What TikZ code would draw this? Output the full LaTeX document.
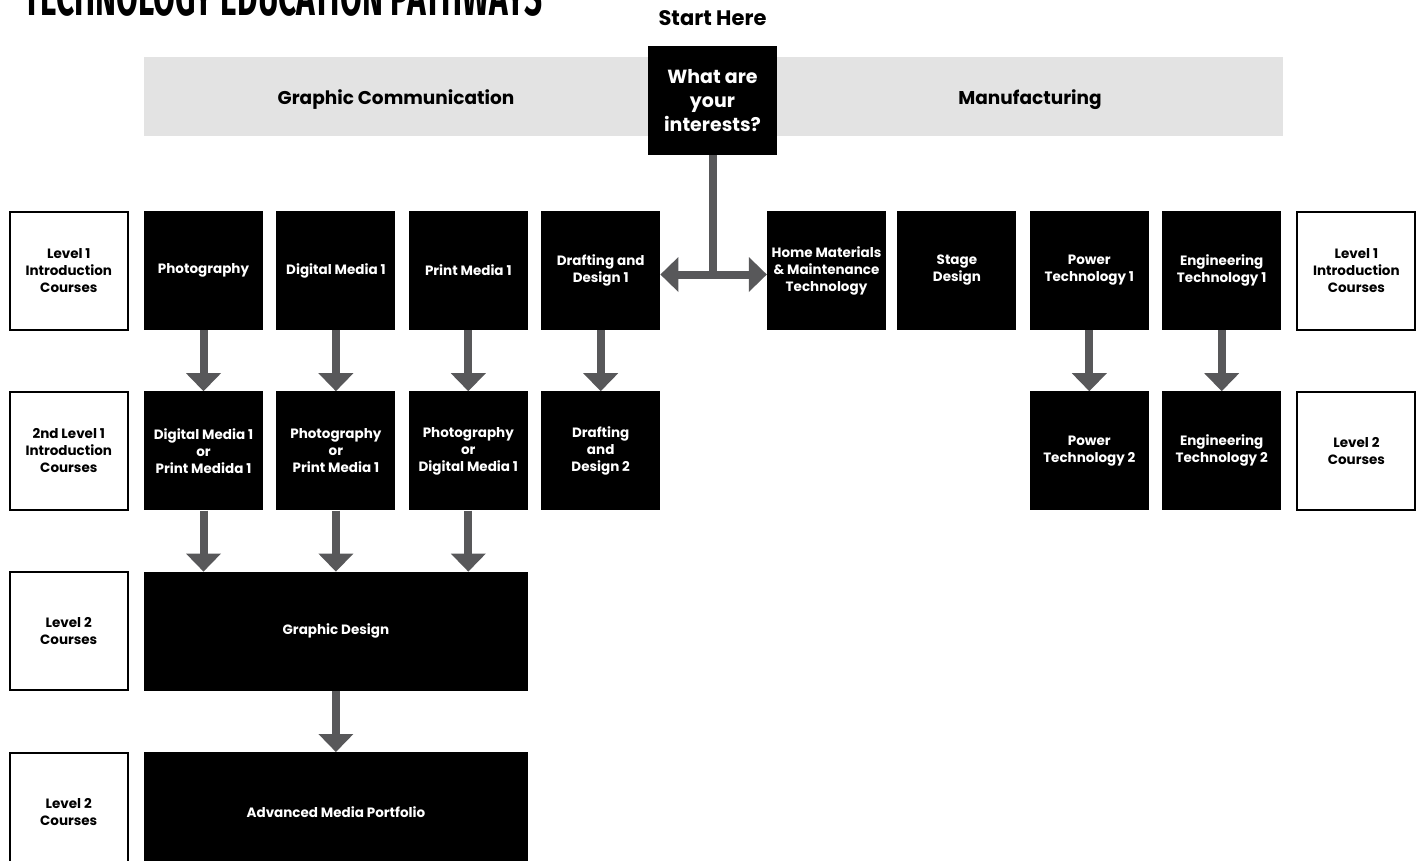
\documentclass[tikz,border=0pt]{standalone}
\usepackage{fontspec}
\usepackage{graphicx}
\setmainfont{Poppins}
\newfontfamily\headfont{Fira Sans}
\usetikzlibrary{arrows.meta,positioning}

\definecolor{bandgrey}{HTML}{E3E3E3}
\definecolor{arrowgrey}{HTML}{58585A}

\tikzset{
	course/.style={fill=black, text=white, minimum width=119pt, minimum height=119pt,
		inner sep=1pt, align=center, font=\bfseries\fontsize{13.5pt}{17pt}\selectfont},
	level/.style={draw=black, line width=2pt, fill=white, minimum width=118pt, minimum height=118pt,
		inner sep=1pt, align=center, font=\bfseries\fontsize{13.5pt}{17pt}\selectfont},
	band/.style={fill=bandgrey, minimum height=79pt, inner sep=0pt, font=\bfseries\fontsize{18.5pt}{22pt}\selectfont},
	flow/.style={color=arrowgrey, line width=8pt,
		>={Triangle[width=35pt,length=18pt,line width=0pt]}}
}

\begin{document}
\begin{tikzpicture}
	\path[use as bounding box] (0pt,0pt) rectangle (1420pt,-861pt);

	\node[anchor=base west, inner sep=0pt] (title) at (23pt,-16pt)
		{\headfont\bfseries\fontsize{54pt}{54pt}\selectfont\scalebox{0.585}[1]{TECHNOLOGY EDUCATION PATHWAYS}};

	\node[band, minimum width=504pt] (gc) at (396pt,-96.5pt) {\raisebox{-3pt}[\height][\depth]{Graphic Communication}};
	\node[band, minimum width=506pt] (mf) at (1030pt,-96.5pt) {\raisebox{-3pt}[\height][\depth]{Manufacturing}};
	\node[course, minimum width=129pt, minimum height=109pt,
		font=\bfseries\fontsize{19pt}{24pt}\selectfont] (interests) at (712.5pt,-100.5pt) {What are\\your\\interests?};
	\node[inner sep=0pt, font=\bfseries\fontsize{21pt}{24pt}\selectfont] (start)[above=20pt of interests] {Start Here};

	% graphic communication
	\node[course] (photo) at (203.5pt,-270.5pt) {Photography};
	\node[course] (dm1)[right=13pt of photo] {Digital Media 1};
	\node[course] (pm1)[right=13pt of dm1] {Print Media 1};
	\node[course] (dd1)[right=13pt of pm1] {Drafting and\\Design 1};
	\node[course] (dmpm)[below=61pt of photo] {Digital Media 1\\or\\Print Medida 1};
	\node[course] (phpm)[below=61pt of dm1] {Photography\\or\\Print Media 1};
	\node[course] (phdm)[below=61pt of pm1] {Photography\\or\\Digital Media 1};
	\node[course] (dd2)[below=61pt of dd1] {Drafting\\and\\Design 2};
	\node[course, minimum width=384pt] (gd)[below=61pt of phpm] {Graphic Design};
	\node[course, minimum width=384pt] (amp)[below=61pt of gd] {Advanced Media Portfolio};

	% manufacturing
	\node[course] (hm) at (826.5pt,-270.5pt) {Home Materials\\\& Maintenance\\Technology};
	\node[course] (sd)[right=11pt of hm] {Stage\\Design};
	\node[course] (pt1)[right=13pt of sd] {Power\\Technology 1};
	\node[course] (et1)[right=13pt of pt1] {Engineering\\Technology 1};
	\node[course] (pt2)[below=61pt of pt1] {Power\\Technology 2};
	\node[course] (et2)[below=61pt of et1] {Engineering\\Technology 2};

	% levels
	\node[level] (l1)[left=15pt of photo] {Level 1\\Introduction\\Courses};
	\node[level] (l2)[left=15pt of dmpm] {2nd Level 1\\Introduction\\Courses};
	\node[level] (l3)[left=15pt of gd] {Level 2\\Courses};
	\node[level] (l4)[left=15pt of amp] {Level 2\\Courses};
	\node[level] (r1)[right=15pt of et1] {Level 1\\Introduction\\Courses};
	\node[level] (r2)[right=15pt of et2] {Level 2\\Courses};

	\coordinate (hub) at ([yshift=-4pt]interests.south |- dd1.east);
	\draw[flow] (interests.south) -- (hub);
	\draw[flow,<->] (dd1.east |- hub) -- (hm.west |- hub);

	\path[flow,->]
	(photo) edge (dmpm)
	(dm1) edge (phpm)
	(pm1) edge (phdm)
	(dd1) edge (dd2)
	(dmpm) edge (dmpm.south |- gd.north)
	(phpm) edge (gd)
	(phdm) edge (phdm.south |- gd.north)
	(gd) edge (amp)
	(pt1) edge (pt2)
	(et1) edge (et2);
\end{tikzpicture}
\end{document}
